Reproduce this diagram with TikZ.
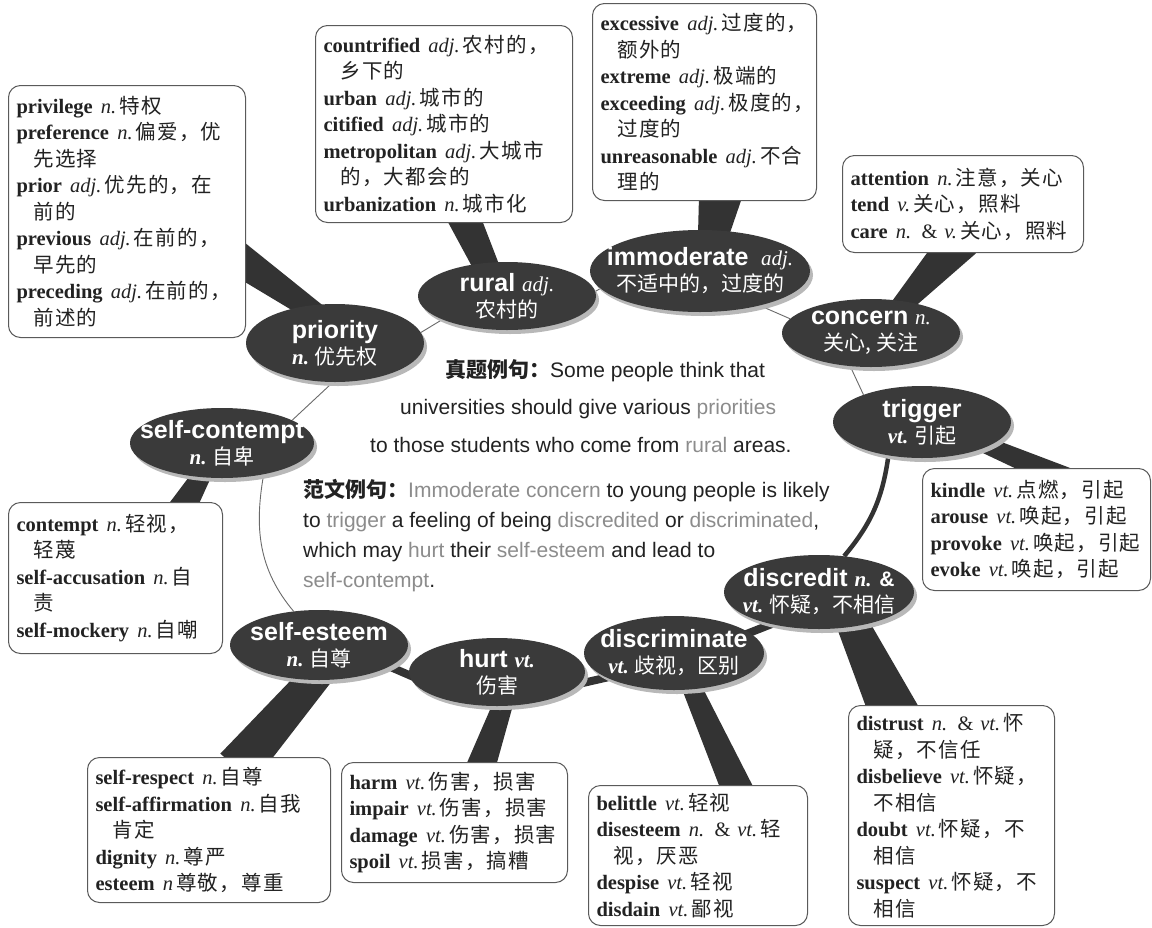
\documentclass[tikz,border=0pt]{standalone}
\usepackage{fontspec}
\setmainfont{Liberation Serif}
\setsansfont{Liberation Sans}
\newfontfamily\cjk{Noto Sans CJK SC}
\newfontfamily\cjkbox{Noto Sans CJK SC}[LetterSpace=6]
\usepackage{xcolor}
\usepackage{tikz}
\usetikzlibrary{shapes.geometric, shadows, calc, backgrounds}
\definecolor{termfill}{HTML}{3A3A3A}
\definecolor{tailfill}{HTML}{333333}
\definecolor{linkgray}{HTML}{6A6A6A}
\definecolor{boxline}{HTML}{5A5A5A}
\definecolor{inktext}{HTML}{222222}
\definecolor{softword}{HTML}{8C8C8C}
\newcommand\zh[1]{{\cjk\mdseries #1}}
\newcommand\zb[1]{{\cjkbox #1}}
\newcommand\tpos[1]{{\rmfamily\mdseries\itshape #1}}
\newcommand\tposb[1]{{\rmfamily\bfseries\itshape #1}}
\newcommand\gloss{\fontsize{21}{26}\selectfont}
\newcommand\hw[3]{\mbox{\textbf{#1}\hspace{.4em}\textit{#2}\hspace{.15em}\zb{#3}}}
\newcommand\cont{\hspace*{17pt}}
\newcommand\soft[1]{\textcolor{softword}{#1}}
\newcommand\tail[4]{\fill[tailfill] ($(#1)!-14pt!(#2)!#3!90:(#2)$) -- ($(#1)!-14pt!(#2)!#3!-90:(#2)$)
  -- ($(#2)!#4!90:(#1)$) -- ($(#2)!#4!-90:(#1)$) -- cycle;}
\tikzset{
      term/.style      = {ellipse, fill=termfill, text=white, align=center,
                          inner xsep=-30pt, inner ysep=-20pt,
                          font=\sffamily\bfseries\fontsize{25}{26}\selectfont,
                          drop shadow={shadow xshift=3pt, shadow yshift=-4pt,
                                       fill=black!28, opacity=1}},
      wordbox/.style   = {rectangle, rounded corners=12pt, draw=boxline, line width=1pt,
                          fill=white, text=inktext, anchor=north west, align=left,
                          inner xsep=8pt, font=\fontsize{20.5}{26.5}\selectfont},
      link/.style      = {draw=linkgray, line width=0.9pt},
      bond/.style      = {draw=tailfill, line width=8pt, shorten <=-6pt, shorten >=-6pt},
      sentence/.style  = {anchor=base west, inner sep=0pt, text=inktext,
                          font=\sffamily\fontsize{21}{30}\selectfont}
    }
\begin{document}
\begin{tikzpicture}[x=1pt, y=1pt]
  \useasboundingbox (0,0) rectangle (1152,-927);
  % Key words
  \node[term, minimum width=178pt, minimum height=78pt] (priority) at (335,-343)
    {priority\\ \gloss\tposb{n.}\ \zh{优先权}};
  \node[term, minimum width=178pt, minimum height=68pt] (rural) at (507,-296)
    {rural {\gloss\tpos{adj.}}\\ \gloss\zh{农村的}};
  \node[term, minimum width=220pt, minimum height=82pt] (immoderate) at (700,-271)
    {immoderate\hspace{.5em}{\gloss\tpos{adj.}}\\ \gloss\zh{不适中的，过度的}};
  \node[term, minimum width=178pt, minimum height=68pt] (concern) at (871,-333)
    {concern {\gloss\tpos{n.}}\\ \gloss\zh{关心, 关注}};
  \node[term, minimum width=178pt, minimum height=72pt] (trigger) at (922,-422)
    {trigger\\ \gloss\tposb{vt.}\ \zh{引起}};
  \node[term, minimum width=190pt, minimum height=74pt] (discredit) at (819,-592)
    {discredit {\gloss\tposb{n.} \&}\\ \gloss\tposb{vt.}\ \zh{怀疑，不相信}};
  \node[term, minimum width=180pt, minimum height=74pt] (discriminate) at (674,-653)
    {discriminate\\ \gloss\tposb{vt.}\ \zh{歧视，区别}};
  \node[term, minimum width=176pt, minimum height=68pt] (hurt) at (497,-672)
    {hurt {\gloss\tposb{vt.}}\\ \gloss\zh{伤害}};
  \node[term, minimum width=178pt, minimum height=70pt] (selfesteem) at (319,-645)
    {self-esteem\\ \gloss\tposb{n.}\ \zh{自尊}};
  \node[term, minimum width=184pt, minimum height=70pt] (selfcontempt) at (222,-443)
    {self-contempt\\ \gloss\tposb{n.}\ \zh{自卑}};
  % Word boxes
  \node[wordbox, text width=221pt, minimum height=252pt] (priorBox) at (8,-85)
    {\hw{privilege}{n.}{特权}\\ \hw{preference}{n.}{偏爱，优}\\ \cont\zb{先选择}\\
     \hw{prior}{adj.}{优先的，在}\\ \cont\zb{前的}\\ \hw{previous}{adj.}{在前的，}\\
     \cont\zb{早先的}\\ \hw{preceding}{adj.}{在前的，}\\ \cont\zb{前述的}};
  \node[wordbox, text width=241pt, minimum height=197pt] (ruralBox) at (315,-25)
    {\hw{countrified}{adj.}{农村的，}\\ \cont\zb{乡下的}\\ \hw{urban}{adj.}{城市的}\\
     \hw{citified}{adj.}{城市的}\\ \hw{metropolitan}{adj.}{大城市}\\
     \cont\zb{的，大都会的}\\ \hw{urbanization}{n.}{城市化}};
  \node[wordbox, text width=208pt, minimum height=197pt] (immodBox) at (592,-3)
    {\hw{excessive}{adj.}{过度的，}\\ \cont\zb{额外的}\\ \hw{extreme}{adj.}{极端的}\\
     \hw{exceeding}{adj.}{极度的，}\\ \cont\zb{过度的}\\
     \hw{unreasonable}{adj.}{不合}\\ \cont\zb{理的}};
  \node[wordbox, text width=225pt, minimum height=97pt] (concernBox) at (842,-155)
    {\hw{attention}{n.}{注意，关心}\\ \hw{tend}{v.}{关心，照料}\\
     \hw{care}{n.\/ \textup{\&} v.}{关心，照料}};
  \node[wordbox, text width=212pt, minimum height=122pt] (triggerBox) at (922,-468)
    {\hw{kindle}{vt.}{点燃，引起}\\ \hw{arouse}{vt.}{唤起，引起}\\
     \hw{provoke}{vt.}{唤起，引起}\\ \hw{evoke}{vt.}{唤起，引起}};
  \node[wordbox, text width=198pt, minimum height=151pt] (contemptBox) at (8,-502)
    {\hw{contempt}{n.}{轻视，}\\ \cont\zb{轻蔑}\\ \hw{self-accusation}{n.}{自}\\
     \cont\zb{责}\\ \hw{self-mockery}{n.}{自嘲}};
  \node[wordbox, text width=227pt, minimum height=145pt] (esteemBox) at (87,-757)
    {\hw{self-respect}{n.}{自尊}\\ \hw{self-affirmation}{n.}{自我}\\ \cont\zb{肯定}\\
     \hw{dignity}{n.}{尊严}\\ \hw{esteem}{n}{尊敬，尊重}};
  \node[wordbox, text width=210pt, minimum height=120pt] (hurtBox) at (341,-762)
    {\hw{harm}{vt.}{伤害，损害}\\ \hw{impair}{vt.}{伤害，损害}\\
     \hw{damage}{vt.}{伤害，损害}\\ \hw{spoil}{vt.}{损害，搞糟}};
  \node[wordbox, text width=203pt, minimum height=140pt] (discrimBox) at (588,-785)
    {\hw{belittle}{vt.}{轻视}\\ \hw{disesteem}{n.\/ \textup{\&} vt.}{轻}\\
     \cont\zb{视，厌恶}\\ \hw{despise}{vt.}{轻视}\\ \hw{disdain}{vt.}{鄙视}};
  \node[wordbox, text width=190pt, minimum height=220pt] (discredBox) at (848,-705)
    {\hw{distrust}{n.\/ \textup{\&} vt.}{怀}\\ \cont\zb{疑，不信任}\\
     \hw{disbelieve}{vt.}{怀疑，}\\ \cont\zb{不相信}\\ \hw{doubt}{vt.}{怀疑，不}\\
     \cont\zb{相信}\\ \hw{suspect}{vt.}{怀疑，不}\\ \cont\zb{相信}};
  % Example sentences
  \node[sentence] (real1) at (445,-377) {\zh{\bfseries 真题例句：}Some people think that};
  \node[sentence] (real2) at (400,-414) {universities should give various \soft{priorities}};
  \node[sentence] (real3) at (370,-452) {to those students who come from \soft{rural} areas.};
  \node[sentence] (model1) at (303,-497)
    {\zh{\bfseries 范文例句：}\soft{Immoderate concern} to young people is likely};
  \node[sentence] (model2) at (303,-527)
    {to \soft{trigger} a feeling of being \soft{discredited} or \soft{discriminated},};
  \node[sentence] (model3) at (303,-557)
    {which may \soft{hurt} their \soft{self-esteem} and lead to};
  \node[sentence] (model4) at (303,-587) {\soft{self-contempt}.};
  % Tail ends inside the boxes
  \coordinate (prTip) at (233,-255);
  \coordinate (ruTip) at (458,-205);
  \coordinate (imTip) at (722,-186);
  \coordinate (coTip) at (961,-240);
  \coordinate (trTip) at (1068,-480);
  \coordinate (dcTip) at (897,-719);
  \coordinate (dmTip) at (741,-798);
  \coordinate (huTip) at (478,-775);
  \coordinate (seTip) at (237,-768);
  \coordinate (scTip) at (180,-512);
  \begin{pgfonlayer}{background}
    \fill[white] (0,0) rectangle (1152,-927);
    % Tails
    \tail{priority.128}{prTip}{10pt}{17pt}
    \tail{rural.124}{ruTip}{12pt}{17pt}
    \tail{immoderate.71}{imTip}{14pt}{23pt}
    \tail{concern.43}{coTip}{9pt}{20pt}
    \tail{trigger.-20}{trTip}{8pt}{12pt}
    \tail{discredit.-45}{dcTip}{15pt}{25pt}
    \tail{discriminate.-63}{dmTip}{9pt}{16pt}
    \tail{hurt.-81}{huTip}{9pt}{15pt}
    \tail{selfesteem.-100}{seTip}{15pt}{22pt}
    \tail{selfcontempt.-122}{scTip}{8pt}{14pt}
    % Chain of key words
    \draw[link] (priority.7) -- (rural.200);
    \draw[link] (rural.3) -- (immoderate.190);
    \draw[link] (immoderate.-30) -- (concern.170);
    \draw[link] (concern.-122) -- (trigger.155);
    \draw[bond, line width=4.5pt, shorten <=0pt, shorten >=0pt]
      (trigger.-135) to[out=-98, in=50] (discredit.55);
    \draw[bond] (discriminate.15) -- (discredit.214);
    \draw[bond] (hurt.-8) -- (discriminate.200);
    \draw[bond] (selfesteem.-17) -- (hurt.182);
    \draw[link] (selfcontempt.-37) to[out=-100, in=130] (selfesteem.127);
    \draw[link] (selfcontempt.18) -- (priority.-93);
  \end{pgfonlayer}
\end{tikzpicture}
\end{document}
